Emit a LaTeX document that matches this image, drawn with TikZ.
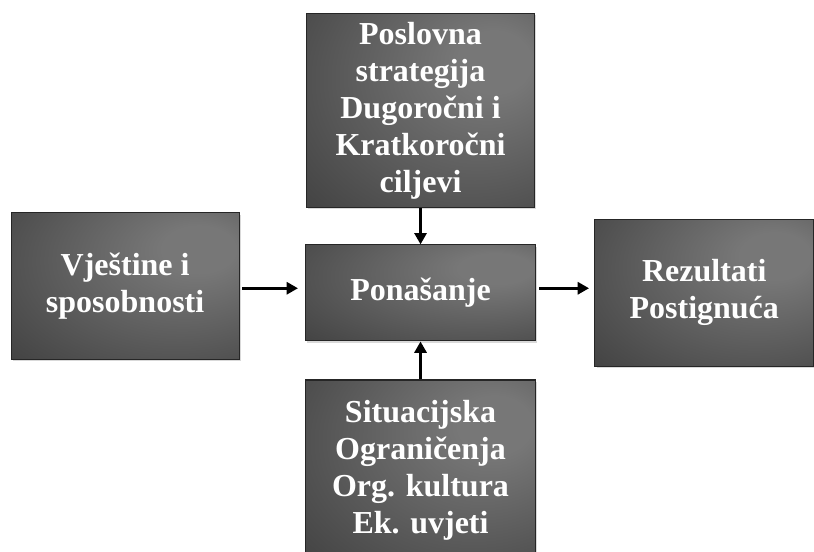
\documentclass[tikz,border=0pt]{standalone}
\usepackage{fontspec}
\setmainfont{Liberation Serif}
\usetikzlibrary{positioning,arrows.meta,shadows}
\definecolor{boxlite}{HTML}{777777}
\definecolor{boxdark}{HTML}{2C2C2C}
\pgfdeclareradialshading{boxshade}{\pgfpoint{18bp}{14bp}}{%
  color(0bp)=(boxlite); color(8bp)=(boxlite); color(62bp)=(boxdark); color(80bp)=(boxdark)}
\begin{document}
\begin{tikzpicture}[
box/.style={draw=black!85,line width=0.8pt,shading=boxshade,
  drop shadow={shadow xshift=1.2pt,shadow yshift=-1.2pt,fill=black!25,opacity=.6},
  text=white,align=center,inner sep=0pt,
  font=\fontsize{24}{27.75}\selectfont\bfseries},
link/.style={line width=2.2pt,-{Triangle[length=8.5pt,width=9pt]}}
]
\useasboundingbox (0,0) rectangle (610.5pt,414pt);
\node[box,minimum width=173pt,minimum height=72pt] (ponasanje) at (315.4pt,194.3pt) {Ponašanje};
\node[box,minimum width=171pt,minimum height=145.5pt,above=27pt of ponasanje] (strategija)
  {Poslovna\\strategija\\Dugoročni i\\Kratkoročni\\ciljevi};
\node[box,minimum width=172.5pt,minimum height=136pt,below=28.5pt of ponasanje] (situacija)
  {Situacijska\\Ograničenja\\Org. kultura\\Ek. uvjeti};
\node[box,minimum width=171pt,minimum height=110pt,left=48.75pt of ponasanje,yshift=5pt] (vjestine)
  {Vještine i\\sposobnosti};
\node[box,minimum width=164pt,minimum height=110pt,right=43.5pt of ponasanje] (rezultati)
  {Rezultati\\Postignuća};
% veze
\coordinate (sred) at ([yshift=3.5pt]ponasanje.center);
\draw[link] (strategija) -- (ponasanje);
\draw[link] (situacija) -- (ponasanje);
\draw[link] ([xshift=2pt]vjestine.east |- sred) -- ([xshift=-5pt]ponasanje.west |- sred);
\draw[link] ([xshift=2pt]ponasanje.east |- sred) -- ([xshift=-4pt]rezultati.west |- sred);
\end{tikzpicture}
\end{document}
